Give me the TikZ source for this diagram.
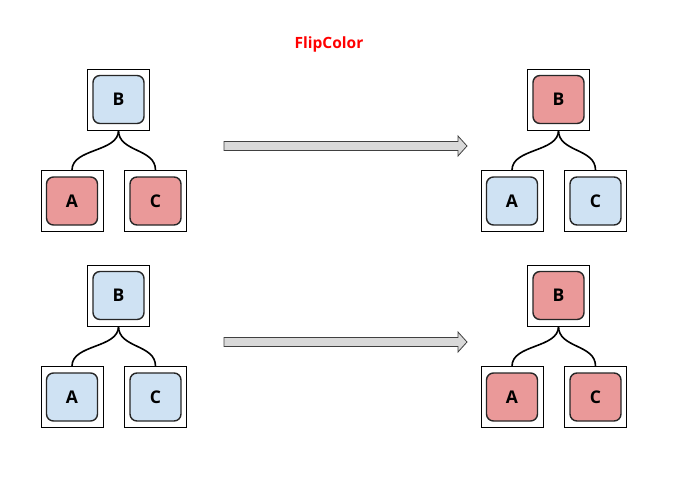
\documentclass[tikz,border=0pt]{standalone}
\usepackage{fontspec}
\setmainfont{Open Sans}
\definecolor{lblue}{HTML}{CFE2F3}
\definecolor{lred}{HTML}{EA9999}
\definecolor{agray}{HTML}{D9D9D9}
\tikzset{
  outerbox/.style={draw=black, line width=0.8pt, fill=white, minimum width=62pt, minimum height=61pt, inner sep=0pt},
  innerbox/.style={draw=black!85, line width=1.4pt, rounded corners=7pt, minimum width=51pt, minimum height=48pt, inner sep=0pt, font=\fontsize{17.5}{20}\selectfont\bfseries},
  bluebox/.style={innerbox, fill=lblue},
  redbox/.style={innerbox, fill=lred},
  link/.style={draw=black, line width=1.6pt},
  bigarrow/.style={draw=black!75, line width=0.8pt, fill=agray}
}
\newcommand\mytree[5]{%
  % #1 prefix, #2 x of B, #3 y of B, #4 style of B, #5 style of children
  \node[outerbox] (#1Bo) at (#2,#3) {};
  \node[#4] (#1B) at (#1Bo.center) {B};
  \node[outerbox] (#1Ao) at ($(#1Bo.center)+(-46.5,101.5)$) {};
  \node[#5] (#1A) at (#1Ao.center) {A};
  \node[outerbox] (#1Co) at ($(#1Bo.center)+(37,101.5)$) {};
  \node[#5] (#1C) at (#1Co.center) {C};
  \draw[link] (#1Bo.south) .. controls ($(#1Bo.south)+(0,22)$) and ($(#1Ao.north)+(0,-22)$) .. (#1Ao.north);
  \draw[link] (#1Bo.south) .. controls ($(#1Bo.south)+(0,22)$) and ($(#1Co.north)+(0,-22)$) .. (#1Co.north);
}
\usetikzlibrary{calc}
\begin{document}
\begin{tikzpicture}[x=1pt,y=-1pt]
\useasboundingbox (0,0) rectangle (695,476);
\node[text=red, font=\fontsize{15.5}{18}\selectfont\bfseries] (title) at (329,44) {FlipColor};
\mytree{tl}{118.5}{99.5}{bluebox}{redbox}
\mytree{tr}{558.5}{99.5}{redbox}{bluebox}
\mytree{bl}{118.5}{295.5}{bluebox}{bluebox}
\mytree{br}{558.5}{295.5}{redbox}{redbox}
\foreach \yy in {146,342} {
  \draw[bigarrow] (224,\yy-4.5) -- (458,\yy-4.5) -- (458,\yy-10) -- (467,\yy) -- (458,\yy+10) -- (458,\yy+4.5) -- (224,\yy+4.5) -- cycle;
}
\end{tikzpicture}
\end{document}
